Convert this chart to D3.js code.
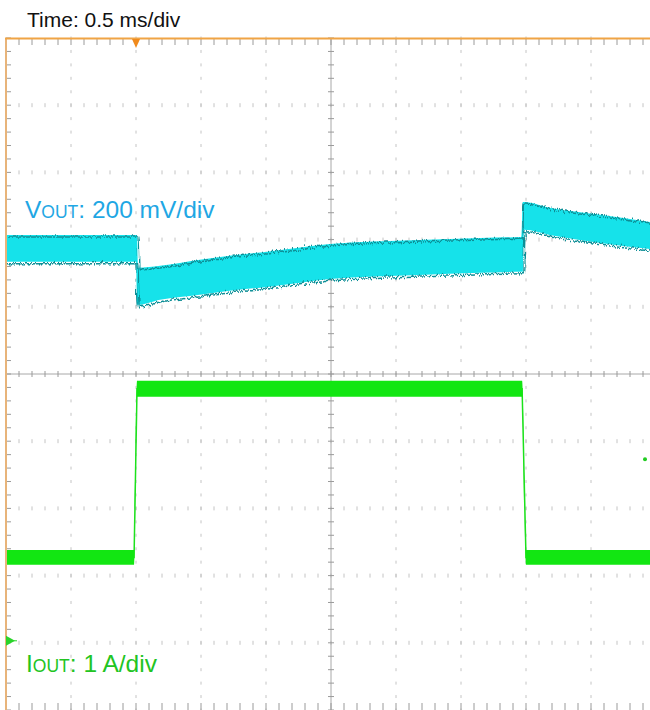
<!DOCTYPE html>
<html>
<head>
<meta charset="utf-8">
<script src="https://cdn.jsdelivr.net/npm/d3@7"></script>
<style>
  body { margin: 0; background: #fff; }
  svg { display: block; font-family: "Liberation Sans", Arial, sans-serif; }
</style>
</head>
<body>
<svg width="650" height="710"></svg>
<script>

// time in ms relative to the trigger, 0.5 ms/div, 10 divs across
var timeDomain = [-1, 4];

// VOUT envelope, mV relative to the pre-step level (200 mV/div)
var voutTime  = [-1, 0, 0.008, 0.015, 0.185, 0.49, 0.72, 1.01, 1.49, 2.18, 2.65, 2.965, 2.975, 2.985, 3.18, 3.57, 4];
var voutUpper = [40, 40, 40, -58, -52, -34, -22, -10, 13, 25, 31, 34, 138, 138, 121, 100, 76];
var voutLower = [-40, -40, -168, -168, -153, -138, -126, -115, -91, -79, -73, -70, -70, 55, 40, 16, -4];

// IOUT envelope, A (1 A/div)
var ioutTime  = [-1, -0.015, 0.008, 2.97, 3.0, 4];
var ioutUpper = [1.35, 1.35, 3.87, 3.87, 1.35, 1.35];
var ioutLower = [1.13, 1.13, 3.63, 3.63, 1.13, 1.13];

// labels
var timeLabel = "Time: 0.5 ms/div";
var voutLabel = ["V", "OUT", ": 200 mV/div"];
var ioutLabel = ["I", "OUT", ": 1 A/div"];

// **** scales ****

var svg = d3.select("svg");

var xScale = d3.scaleLinear().domain(timeDomain).range([6, 656]);
var divScale = d3.scaleLinear().domain([-5, 5]).range([710, 38]);   // screen divisions
// VOUT sits 1.87 div above centre when at 0 mV
var voutScale = d3.scaleLinear().domain([(-5 - 1.87) * 200, (5 - 1.87) * 200]).range([710, 38]);
// IOUT ground marker is 3.97 div below centre
var ioutScale = d3.scaleLinear().domain([(-5 + 3.97), (5 + 3.97)]).range([710, 38]);

var xMajor = xScale.ticks(10), xMinor = xScale.ticks(50);
var yMajor = divScale.ticks(10), yMinor = divScale.ticks(50);

// **** graticule ****

var grid = svg.append("g").attr("class", "grid");

// dotted grid lines: little dashes at every minor position
xMajor.forEach(function(t) {
    if (t === 1.5 || t === timeDomain[0]) return;
    grid.selectAll(null).data(yMinor).enter().append("line")
        .attr("x1", xScale(t)).attr("x2", xScale(t))
        .attr("y1", function(d) { return divScale(d) - 1.5; })
        .attr("y2", function(d) { return divScale(d) + 1.5; })
        .attr("stroke", "#c4c4c4").attr("stroke-width", 1);
});
yMajor.forEach(function(v) {
    if (v === 0 || v === 5 || v === -5) return;
    grid.selectAll(null).data(xMinor).enter().append("line")
        .attr("x1", function(d) { return xScale(d); })
        .attr("x2", function(d) { return xScale(d); })
        .attr("y1", divScale(v) - 2).attr("y2", divScale(v) + 2)
        .attr("stroke", "#c4c4c4").attr("stroke-width", 1);
});

// centre cross with ticks
grid.append("line")
    .attr("x1", 6).attr("x2", 656)
    .attr("y1", divScale(0)).attr("y2", divScale(0))
    .attr("stroke", "#a8a8a8").attr("stroke-width", 1);
grid.append("line")
    .attr("x1", xScale(1.5)).attr("x2", xScale(1.5))
    .attr("y1", 38).attr("y2", 710)
    .attr("stroke", "#a8a8a8").attr("stroke-width", 1);
grid.selectAll(null).data(xMinor).enter().append("line")
    .attr("x1", function(d) { return xScale(d); })
    .attr("x2", function(d) { return xScale(d); })
    .attr("y1", divScale(0) - 3).attr("y2", divScale(0) + 3)
    .attr("stroke", "#9a9a9a");
grid.selectAll(null).data(yMinor).enter().append("line")
    .attr("x1", xScale(1.5) - 3).attr("x2", xScale(1.5) + 3)
    .attr("y1", function(d) { return divScale(d); })
    .attr("y2", function(d) { return divScale(d); })
    .attr("stroke", "#9a9a9a");

// border ticks (top, bottom, left)
grid.selectAll(null).data(xMinor).enter().append("line")
    .attr("x1", function(d) { return xScale(d); })
    .attr("x2", function(d) { return xScale(d); })
    .attr("y1", 39).attr("y2", 45)
    .attr("stroke", "#9a9a9a");
grid.selectAll(null).data(xMinor).enter().append("line")
    .attr("x1", function(d) { return xScale(d); })
    .attr("x2", function(d) { return xScale(d); })
    .attr("y1", 703).attr("y2", 710)
    .attr("stroke", "#9a9a9a");
grid.selectAll(null).data(yMinor).enter().append("line")
    .attr("x1", 6).attr("x2", 11)
    .attr("y1", function(d) { return divScale(d); })
    .attr("y2", function(d) { return divScale(d); })
    .attr("stroke", "#9a9a9a");

// **** traces ****

var defs = svg.append("defs");
var jitter = defs.append("filter").attr("id", "jitter")
    .attr("x", "-5%").attr("y", "-20%").attr("width", "110%").attr("height", "140%");
jitter.append("feTurbulence")
    .attr("type", "turbulence").attr("baseFrequency", "0.9 0.03")
    .attr("numOctaves", 2).attr("seed", 3).attr("result", "noise");
jitter.append("feDisplacementMap")
    .attr("in", "SourceGraphic").attr("in2", "noise")
    .attr("scale", 6).attr("xChannelSelector", "R").attr("yChannelSelector", "G");

function band(times, upper, lower, yScale) {
    return times.map(function(t, i) { return { t: t, hi: yScale(upper[i]), lo: yScale(lower[i]) }; });
}

var vout = band(voutTime, voutUpper, voutLower, voutScale);
var iout = band(ioutTime, ioutUpper, ioutLower, ioutScale);

var area = d3.area()
    .x(function(d) { return xScale(d.t); })
    .y0(function(d) { return d.lo; })
    .y1(function(d) { return d.hi; })
    .curve(d3.curveMonotoneX);
var upperLine = d3.line().x(function(d) { return xScale(d.t); }).y(function(d) { return d.hi; }).curve(d3.curveMonotoneX);
var lowerLine = d3.line().x(function(d) { return xScale(d.t); }).y(function(d) { return d.lo; }).curve(d3.curveMonotoneX);
var midLine = d3.line().x(function(d) { return xScale(d.t); }).y(function(d) { return (d.hi + d.lo) / 2; });

// IOUT
svg.append("path").datum(iout)
    .attr("d", midLine).attr("fill", "none")
    .attr("stroke", "#22e022").attr("stroke-width", 1.5);
svg.append("path").datum(iout)
    .attr("d", area).attr("fill", "#12e612");
// dark noisy edges only on the flat parts
[[0, 1], [2, 3], [4, 5]].forEach(function(s) {
    var seg = iout.slice(s[0], s[1] + 1);
    [upperLine, lowerLine].forEach(function(fn) {
        svg.append("path").datum(seg)
            .attr("d", fn).attr("fill", "none")
            .attr("stroke", "#0a7a0a").attr("stroke-width", 1.5)
            .attr("filter", "url(#jitter)");
    });
});

// VOUT
svg.append("path").datum(vout)
    .attr("d", area).attr("fill", "#16e2ea");
[upperLine, lowerLine].forEach(function(fn) {
    svg.append("path").datum(vout)
        .attr("d", fn).attr("fill", "none")
        .attr("stroke", "#0d8e96").attr("stroke-width", 1.5)
        .attr("filter", "url(#jitter)");
});

// **** frame and markers ****

svg.append("line")
    .attr("x1", 6).attr("x2", 6).attr("y1", 38).attr("y2", 710)
    .attr("stroke", "#e8b47a").attr("stroke-width", 2);
svg.append("line")
    .attr("x1", 5).attr("x2", 650).attr("y1", 38.5).attr("y2", 38.5)
    .attr("stroke", "#f0a445").attr("stroke-width", 2);

// trigger position
var tx = xScale(0);
svg.append("path")
    .attr("d", "M" + (tx - 4) + ",39 L" + (tx + 4) + ",39 L" + tx + ",48 Z")
    .attr("fill", "#f08a1c");

// IOUT ground marker
var gy = ioutScale(0);
svg.append("path")
    .attr("d", "M6," + (gy - 5) + " L15," + gy + " L6," + (gy + 5) + " Z")
    .attr("fill", "#2bd42b");
svg.append("line")
    .attr("x1", 6).attr("x2", 17).attr("y1", gy).attr("y2", gy)
    .attr("stroke", "#2bd42b").attr("stroke-width", 1);

// trigger level dot
svg.append("circle")
    .attr("cx", 645).attr("cy", ioutScale(2.7)).attr("r", 2)
    .attr("fill", "#22cc22");

// **** labels ****

svg.append("text")
    .attr("x", 27).attr("y", 27)
    .attr("font-size", 21).attr("fill", "#111")
    .text(timeLabel);

function channelLabel(parts, x, y, color) {
    var t = svg.append("text").attr("x", x).attr("y", y)
        .attr("font-size", 24.5).attr("fill", color);
    t.append("tspan").text(parts[0]);
    t.append("tspan").attr("font-size", 17.5).text(parts[1]);
    t.append("tspan").text(parts[2]);
}
channelLabel(voutLabel, 25, 218, "#1fa7e4");
channelLabel(ioutLabel, 26, 672, "#22c422");
</script>
</body>
</html>
